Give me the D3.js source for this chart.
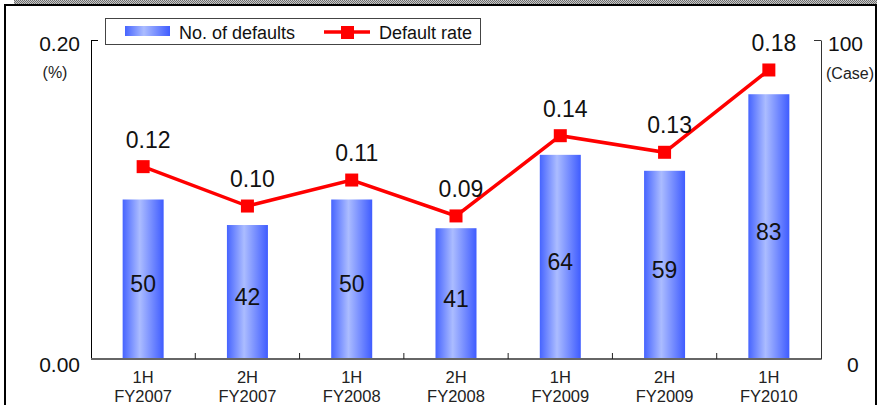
<!DOCTYPE html>
<html>
<head>
<meta charset="utf-8">
<script src="https://cdn.jsdelivr.net/npm/d3@7"></script>
<style>
  html, body { margin: 0; padding: 0; background: #fff; }
  svg { display: block; font-family: "Liberation Sans", Arial, sans-serif; }
</style>
</head>
<body>
<svg id="chart" width="877" height="405"></svg>
<script>
// Half-year periods (two-line tick labels)
const periods = ["1H FY2007", "2H FY2007", "1H FY2008", "2H FY2008", "1H FY2009", "2H FY2009", "1H FY2010"];
const halfLabels = ["1H", "2H", "1H", "2H", "1H", "2H", "1H"];
const fyLabels = ["FY2007", "FY2007", "FY2008", "FY2008", "FY2009", "FY2009", "FY2010"];

// Number of defaults (cases), right axis
const defaults = [50, 42, 50, 41, 64, 59, 83];
// Default rate (%), left axis
const defaultRate = [0.1206, 0.0959, 0.1122, 0.0897, 0.140, 0.1296, 0.1812];

const rateTicks = [0, 0.2];
const caseTicks = [0, 100];

const svg = d3.select("#chart");
const W = 877, H = 405;
const plot = { left: 91, right: 821, top: 40, bottom: 359 };

// frame strip and border
const defs = svg.append("defs");
const pat = defs.append("pattern").attr("id", "hatch").attr("patternUnits", "userSpaceOnUse")
  .attr("width", 2).attr("height", 2);
pat.append("rect").attr("width", 2).attr("height", 2).attr("fill", "#c8c8c8");
pat.append("rect").attr("width", 1).attr("height", 1).attr("fill", "#6e6e6e");
pat.append("rect").attr("x", 1).attr("y", 1).attr("width", 1).attr("height", 1).attr("fill", "#6e6e6e");
svg.append("rect").attr("x", 14).attr("y", 0).attr("width", W - 14).attr("height", 4).attr("fill", "url(#hatch)");
svg.append("rect").attr("x", 5).attr("y", 5).attr("width", W - 6).attr("height", H + 10)
  .attr("fill", "none").attr("stroke", "#000").attr("stroke-width", 2);

// bar gradient
const grad = defs.append("linearGradient").attr("id", "barGrad").attr("x1", "0%").attr("x2", "100%");
grad.append("stop").attr("offset", "0%").attr("stop-color", "#4664ff");
grad.append("stop").attr("offset", "42%").attr("stop-color", "#abbcff");
grad.append("stop").attr("offset", "100%").attr("stop-color", "#3f5cff");

const x = d3.scaleBand().domain(periods).range([plot.left, plot.right]).paddingInner(0).paddingOuter(0);
const yRate = d3.scaleLinear().domain([0, 0.2]).range([plot.bottom, plot.top]);
const yCase = d3.scaleLinear().domain([0, 100]).range([plot.bottom, plot.top]);
const barW = 41;

// bars
svg.append("g").selectAll("rect").data(defaults).join("rect")
  .attr("x", (d, i) => x(periods[i]) + x.bandwidth() / 2 - barW / 2)
  .attr("y", d => yCase(d))
  .attr("width", barW)
  .attr("height", d => yCase(0) - yCase(d))
  .attr("fill", "url(#barGrad)");

// bar value labels
svg.append("g").selectAll("text").data(defaults).join("text")
  .attr("x", (d, i) => x(periods[i]) + x.bandwidth() / 2)
  .attr("y", d => (yCase(d) + yCase(0)) / 2 + 13)
  .attr("text-anchor", "middle")
  .attr("font-size", 23)
  .attr("fill", "#111")
  .text(d => d);

// left axis (rate)
const leftAxis = svg.append("g").attr("transform", `translate(${plot.left},0)`)
  .call(d3.axisLeft(yRate).tickValues(rateTicks).tickSizeInner(-7).tickSizeOuter(0)
    .tickPadding(11).tickFormat(d3.format(".2f")));
leftAxis.select(".domain").attr("stroke", "#000");
leftAxis.selectAll(".tick line").attr("stroke", "#000");
leftAxis.selectAll(".tick text").attr("font-size", 21).attr("fill", "#111")
  .attr("font-family", "Liberation Sans, Arial, sans-serif")
  .attr("dy", d => d === 0 ? "0.6em" : "0.52em");
svg.append("text").attr("x", 55).attr("y", 78).attr("text-anchor", "middle")
  .attr("font-size", 16).attr("fill", "#222").text("(%)");

// right axis (cases)
const rightAxis = svg.append("g").attr("transform", `translate(${plot.right},0)`)
  .call(d3.axisRight(yCase).tickValues(caseTicks).tickSizeInner(-7).tickSizeOuter(0)
    .tickPadding(8).tickFormat(d3.format("d")));
rightAxis.select(".domain").attr("stroke", "#333");
rightAxis.selectAll(".tick line").attr("stroke", "#333");
rightAxis.selectAll(".tick text").attr("font-size", 21).attr("fill", "#111")
  .attr("font-family", "Liberation Sans, Arial, sans-serif")
  .attr("dy", d => d === 0 ? "0.6em" : "0.52em")
  .attr("x", d => d === 0 ? 26 : 7);
svg.append("text").attr("x", 826).attr("y", 79)
  .attr("font-size", 16).attr("fill", "#222").text("(Case)");

// category axis
const xAxis = svg.append("g").attr("transform", `translate(0,${plot.bottom})`);
xAxis.append("line").attr("x1", plot.left).attr("x2", plot.right)
  .attr("stroke", "#666").attr("stroke-width", 2);
xAxis.selectAll("line.sep").data(periods.slice(1)).join("line").attr("class", "sep")
  .attr("x1", d => x(d)).attr("x2", d => x(d)).attr("y1", 0).attr("y2", -6)
  .attr("stroke", "#222");
const catText = xAxis.selectAll("text.cat").data(periods).join("text").attr("class", "cat")
  .attr("text-anchor", "middle")
  .attr("font-family", "Liberation Sans Narrow, Arial Narrow, Liberation Sans, sans-serif")
  .attr("font-size", 16.5).attr("fill", "#222");
catText.append("tspan").attr("x", d => x(d) + x.bandwidth() / 2).attr("y", 24)
  .text((d, i) => halfLabels[i]);
catText.append("tspan").attr("x", d => x(d) + x.bandwidth() / 2).attr("y", 42.5)
  .text((d, i) => fyLabels[i]);

// default rate line
const line = d3.line()
  .x((d, i) => x(periods[i]) + x.bandwidth() / 2)
  .y(d => yRate(d));
svg.append("path").datum(defaultRate).attr("d", line)
  .attr("fill", "none").attr("stroke", "#ff0000").attr("stroke-width", 3.5);
const mk = 13;
svg.append("g").selectAll("rect").data(defaultRate).join("rect")
  .attr("x", (d, i) => x(periods[i]) + x.bandwidth() / 2 - mk / 2)
  .attr("y", d => yRate(d) - mk / 2)
  .attr("width", mk).attr("height", mk).attr("fill", "#ff0000");
svg.append("g").selectAll("text").data(defaultRate).join("text")
  .attr("x", (d, i) => x(periods[i]) + x.bandwidth() / 2 + 5)
  .attr("y", d => yRate(d) - 19)
  .attr("text-anchor", "middle")
  .attr("font-size", 23).attr("fill", "#111")
  .text(d => d3.format(".2f")(d));

// legend
const lg = svg.append("g");
lg.append("rect").attr("x", 105.5).attr("y", 18.5).attr("width", 375).attr("height", 26)
  .attr("fill", "#fff").attr("stroke", "#444").attr("stroke-width", 1);
lg.append("rect").attr("x", 125).attr("y", 26).attr("width", 45).attr("height", 10)
  .attr("fill", "url(#barGrad)");
lg.append("text").attr("x", 179).attr("y", 39).attr("font-size", 18).attr("fill", "#111")
  .text("No. of defaults");
lg.append("line").attr("x1", 324).attr("x2", 370).attr("y1", 32).attr("y2", 32)
  .attr("stroke", "#ff0000").attr("stroke-width", 3.5);
lg.append("rect").attr("x", 341).attr("y", 26).attr("width", 13).attr("height", 13).attr("fill", "#ff0000");
lg.append("text").attr("x", 379).attr("y", 39).attr("font-size", 18).attr("fill", "#111")
  .text("Default rate");
</script>
</body>
</html>
